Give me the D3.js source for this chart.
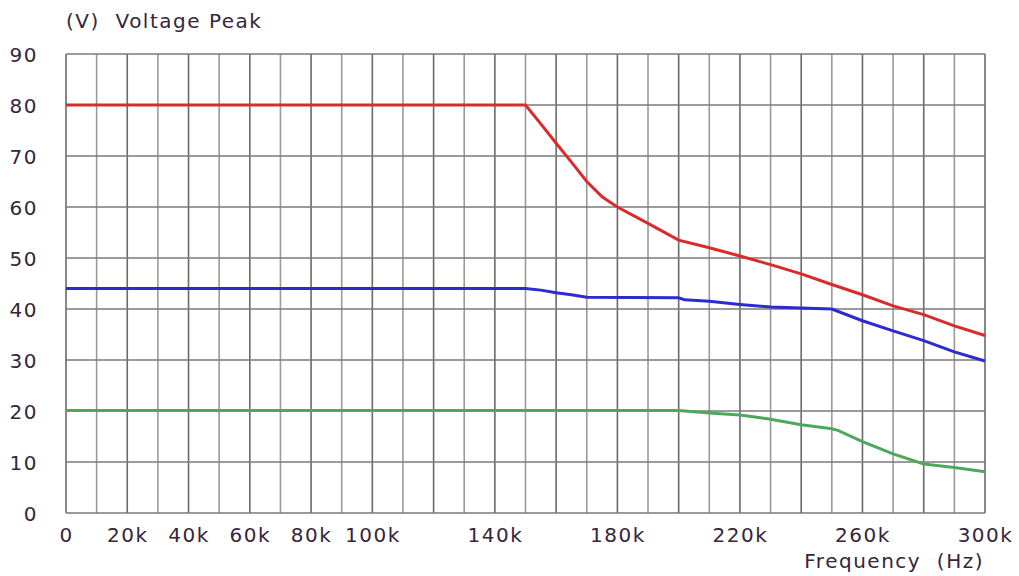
<!DOCTYPE html>
<html>
<head>
<meta charset="utf-8">
<script src="https://cdn.jsdelivr.net/npm/d3@7"></script>
<style>
  html, body { margin: 0; padding: 0; background: #fff; }
  svg text { font-family: "DejaVu Sans", Verdana, sans-serif; font-size: 20px; letter-spacing: 1.5px; fill: #35263a; }
</style>
</head>
<body>
<svg id="chart" width="1019" height="576"></svg>
<script>
// frequency in kHz, voltage peak in V
const redFreq   = [0, 150, 155, 160, 165, 170, 175, 180, 190, 200, 210, 220, 230, 240, 250, 260, 270, 280, 290, 300];
const redVolt   = [80, 80, 76.3, 72.5, 68.8, 65, 62, 60, 56.8, 53.5, 52, 50.4, 48.7, 46.9, 44.8, 42.8, 40.6, 38.9, 36.7, 34.8];
const blueFreq  = [0, 150, 155, 160, 165, 170, 200, 202, 210, 220, 230, 240, 250, 260, 270, 280, 290, 300];
const blueVolt  = [44, 44, 43.7, 43.2, 42.8, 42.3, 42.2, 41.8, 41.5, 40.9, 40.4, 40.2, 40, 37.7, 35.7, 33.8, 31.6, 29.8];
const greenFreq = [0, 200, 210, 220, 230, 240, 250, 252, 260, 270, 280, 290, 300];
const greenVolt = [20.1, 20.1, 19.6, 19.2, 18.4, 17.3, 16.5, 16.2, 14, 11.6, 9.6, 8.9, 8.1];

const xTickLabels = [0, 20, 40, 60, 80, 100, 140, 180, 220, 260, 300];
const yTickLabels = [0, 10, 20, 30, 40, 50, 60, 70, 80, 90];

const svg = d3.select("#chart");

const x = d3.scaleLinear().domain([0, 300]).range([66, 985]);
const y = d3.scaleLinear().domain([0, 90]).range([513, 54]);

// grid
const grid = svg.append("g");
grid.selectAll("line.v")
  .data(d3.range(0, 301, 10))
  .enter().append("line")
  .attr("x1", d => x(d)).attr("x2", d => x(d))
  .attr("y1", y(90)).attr("y2", y(0))
  .attr("stroke", d => d % 20 === 0 ? "#6a6a6a" : "#9a9a9a")
  .attr("stroke-width", 1.6);
grid.selectAll("line.h")
  .data(d3.range(0, 91, 10))
  .enter().append("line")
  .attr("x1", x(0)).attr("x2", x(300))
  .attr("y1", d => y(d)).attr("y2", d => y(d))
  .attr("stroke", "#7a7a7a")
  .attr("stroke-width", 1.6);

// axis labels
const xAxis = svg.append("g")
  .attr("transform", "translate(0," + y(0) + ")")
  .call(d3.axisBottom(x).tickValues(xTickLabels).tickSize(0).tickPadding(0)
    .tickFormat(d => d === 0 ? "0" : d + "k"));
xAxis.select(".domain").remove();
xAxis.selectAll("text")
  .attr("y", 29).attr("dy", null)
  .attr("font-size", null).attr("font-family", null).attr("fill", null);
xAxis.attr("font-size", null).attr("font-family", null);

const yAxis = svg.append("g")
  .attr("transform", "translate(38,0)")
  .call(d3.axisLeft(y).tickValues(yTickLabels).tickSize(0).tickPadding(0));
yAxis.select(".domain").remove();
yAxis.selectAll("text")
  .attr("x", 0).attr("dy", "0.36em")
  .attr("fill", null);
yAxis.attr("font-size", null).attr("font-family", null);

// series
const line = d3.line().x(d => x(d[0])).y(d => y(d[1]));
const series = [
  { f: greenFreq, v: greenVolt, color: "#4ea85c" },
  { f: blueFreq, v: blueVolt, color: "#2b2bcf" },
  { f: redFreq, v: redVolt, color: "#d92b2b" }
];
series.forEach(s => {
  svg.append("path")
    .datum(d3.zip(s.f, s.v))
    .attr("d", line)
    .attr("fill", "none")
    .attr("stroke", s.color)
    .attr("stroke-width", 3);
});

// titles
svg.append("text").attr("x", 66).attr("y", 28).attr("xml:space", "preserve").text("(V)  Voltage Peak");
svg.append("text").attr("x", 984).attr("y", 568).attr("text-anchor", "end")
  .attr("xml:space", "preserve").text("Frequency  (Hz)");
</script>
</body>
</html>
